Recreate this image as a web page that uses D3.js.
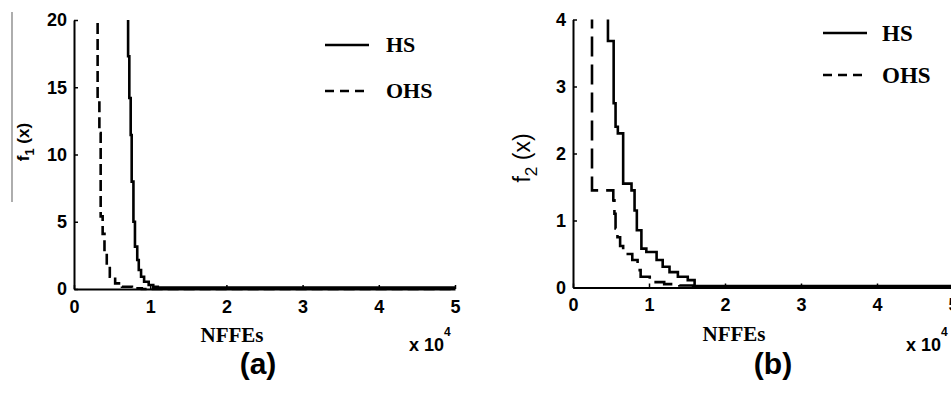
<!DOCTYPE html>
<html>
<head>
<meta charset="utf-8">
<script src="https://cdn.jsdelivr.net/npm/d3@7"></script>
<style>
    body { margin: 0; background: #fff; overflow: hidden; }
    svg { display: block; }
</style>
</head>
<body>
<svg width="951" height="395"></svg>
<script>
// tick values (x axis in units of 10^4 NFFEs)
const xTicks = [0, 1, 2, 3, 4, 5];
const yTicksA = [0, 5, 10, 15, 20];
const yTicksB = [0, 1, 2, 3, 4];

// (a) f1(x) convergence, step points (nffe x1e4, best f)
const hsA_nffe = [0.71, 0.726, 0.744, 0.757, 0.78, 0.80, 0.83, 0.85, 0.88, 0.92, 0.98, 1.04, 1.10, 1.13, 5.0];
const hsA_f = [40, 17.3, 14.2, 11.45, 7.98, 5.0, 3.15, 2.16, 1.41, 0.91, 0.54, 0.30, 0.16, 0.1, 0.1];
const ohsA_nffe = [0.31, 0.333, 0.35, 0.376, 0.40, 0.43, 0.47, 0.54, 0.63, 0.76, 0.89, 5.0];
const ohsA_f = [40, 14.2, 11.6, 5.4, 4.1, 2.65, 1.66, 0.91, 0.42, 0.17, 0.05, 0.0];

// (b) f2(x) convergence
const hsB_nffe = [0.46, 0.535, 0.56, 0.59, 0.66, 0.77, 0.81, 0.84, 0.90, 0.965, 1.10, 1.18, 1.27, 1.38, 1.51, 1.60, 5.0];
const hsB_f = [5, 3.68, 2.75, 2.40, 2.30, 1.55, 1.45, 1.15, 0.855, 0.58, 0.53, 0.41, 0.31, 0.23, 0.16, 0.11, 0.02];
const ohsB_nffe = [0.25, 0.53, 0.545, 0.56, 0.585, 0.62, 0.66, 0.78, 0.85, 0.89, 1.01, 1.20, 1.40, 1.58, 5.0];
const ohsB_f = [5, 1.45, 1.30, 1.10, 0.88, 0.75, 0.62, 0.50, 0.41, 0.26, 0.16, 0.08, 0.05, 0.03, 0.01];

const seriesNames = ['HS', 'OHS'];

const svg = d3.select('svg');
const sans = '"Liberation Sans", Arial, sans-serif';
const serif = '"Liberation Serif", "Times New Roman", serif';

// scan artefact line at the far left
svg.append('line')
    .attr('x1', 12).attr('x2', 12)
    .attr('y1', 12).attr('y2', 202)
    .attr('stroke', '#777')
    .attr('stroke-width', 1.2);

function drawPanel(cfg) {
    const x = d3.scaleLinear().domain([0, 5]).range([cfg.left, cfg.right]);
    const y = d3.scaleLinear().domain([0, cfg.yMax]).range([cfg.bottom, cfg.top]);
    const g = svg.append('g');

    const clipId = 'clip-' + cfg.id;
    g.append('clipPath')
        .attr('id', clipId)
        .append('rect')
        .attr('x', cfg.left)
        .attr('y', cfg.top)
        .attr('width', cfg.right - cfg.left + 2)
        .attr('height', cfg.bottom - cfg.top + 3);

    const yAxis = g.append('g')
        .attr('transform', `translate(${cfg.left},0)`)
        .call(d3.axisLeft(y).tickValues(cfg.yTicks).tickSizeInner(-4).tickSizeOuter(0).tickPadding(7).tickFormat(d3.format('d')));
    const xAxis = g.append('g')
        .attr('transform', `translate(0,${cfg.bottom})`)
        .call(d3.axisBottom(x).tickValues(xTicks).tickSizeInner(-4).tickSizeOuter(0).tickPadding(11).tickFormat(d3.format('d')));

    [yAxis, xAxis].forEach((a) => {
        a.select('.domain').attr('stroke', '#000').attr('stroke-width', 2);
        a.selectAll('.tick line').attr('stroke', '#000').attr('stroke-width', 1.5);
        a.selectAll('.tick text')
            .attr('fill', '#000')
            .style('font-family', sans)
            .style('font-weight', 'bold')
            .style('font-size', '18px');
    });

    const line = d3
        .line()
        .x((d) => x(d[0]))
        .y((d) => y(d[1]))
        .curve(d3.curveStepBefore);

    const plot = g.append('g').attr('clip-path', `url(#${clipId})`);
    cfg.series.forEach((s) => {
        plot.append('path')
            .datum(d3.zip(s.nffe, s.f))
            .attr('fill', 'none')
            .attr('stroke', '#000')
            .attr('stroke-width', 2.6)
            .attr('stroke-dasharray', s.dashed ? cfg.dash : null)
            .attr('d', line);
    });

    // legend
    seriesNames.forEach((name, i) => {
        const ly = cfg.legendY[i];
        g.append('line')
            .attr('x1', cfg.legendX[0]).attr('x2', cfg.legendX[1])
            .attr('y1', ly).attr('y2', ly)
            .attr('stroke', '#000')
            .attr('stroke-width', 2.6)
            .attr('stroke-dasharray', i === 1 ? '9,6' : null);
        g.append('text')
            .attr('x', cfg.legendTextX)
            .attr('y', ly + cfg.legendFont * 0.33)
            .style('font-family', serif)
            .style('font-weight', 'bold')
            .style('font-size', cfg.legendFont + 'px')
            .text(name);
    });

    // x label
    g.append('text')
        .attr('x', cfg.xLabelX)
        .attr('y', cfg.xLabelY)
        .attr('text-anchor', 'middle')
        .style('font-family', serif)
        .style('font-weight', 'bold')
        .style('font-size', '21px')
        .text('NFFEs');

    // x 10^4 multiplier
    const mult = g.append('text')
        .attr('x', cfg.multX)
        .attr('y', 351)
        .style('font-family', sans)
        .style('font-weight', 'bold')
        .style('font-size', '18px');
    mult.append('tspan').text('x 10');
    mult.append('tspan').attr('dy', -15).style('font-size', '12px').text('4');

    // y label
    const yl = g.append('text')
        .attr('transform', `translate(${cfg.yLabelX},${cfg.yLabelY}) rotate(-90)`)
        .attr('text-anchor', 'middle')
        .style('font-family', sans)
        .style('font-weight', cfg.yLabelWeight)
        .style('font-size', cfg.yLabelFont + 'px');
    yl.append('tspan').text('f');
    yl.append('tspan').attr('dy', cfg.yLabelFont * 0.3).style('font-size', cfg.yLabelFont * 0.75 + 'px').text(cfg.sub);
    yl.append('tspan').attr('dy', -cfg.yLabelFont * 0.3).text('\u00a0(x)');

    // panel letter
    g.append('text')
        .attr('x', cfg.letterX)
        .attr('y', 374)
        .attr('text-anchor', 'middle')
        .style('font-family', sans)
        .style('font-weight', 'bold')
        .style('font-size', '30px')
        .text(cfg.letter);
}

drawPanel({
    id: 'a', left: 74, right: 455, top: 20, bottom: 289, yMax: 20, yTicks: yTicksA,
    dash: '11,5',
    series: [
        { nffe: hsA_nffe, f: hsA_f, dashed: false },
        { nffe: ohsA_nffe, f: ohsA_f, dashed: true },
    ],
    legendX: [325, 369], legendY: [45, 91], legendTextX: 386, legendFont: 22,
    xLabelX: 232, xLabelY: 342, multX: 409,
    yLabelX: 29, yLabelY: 142, yLabelFont: 17, yLabelWeight: 'bold', sub: '1',
    letterX: 258, letter: '(a)',
});

drawPanel({
    id: 'b', left: 573, right: 953, top: 19.5, bottom: 287.5, yMax: 4, yTicks: yTicksB,
    dash: '20,8',
    series: [
        { nffe: hsB_nffe, f: hsB_f, dashed: false },
        { nffe: ohsB_nffe, f: ohsB_f, dashed: true },
    ],
    legendX: [823, 867], legendY: [33, 75], legendTextX: 882, legendFont: 23,
    xLabelX: 734, xLabelY: 341, multX: 906,
    yLabelX: 530, yLabelY: 158, yLabelFont: 23, yLabelWeight: 'normal', sub: '2',
    letterX: 773, letter: '(b)',
});
</script>
</body>
</html>
